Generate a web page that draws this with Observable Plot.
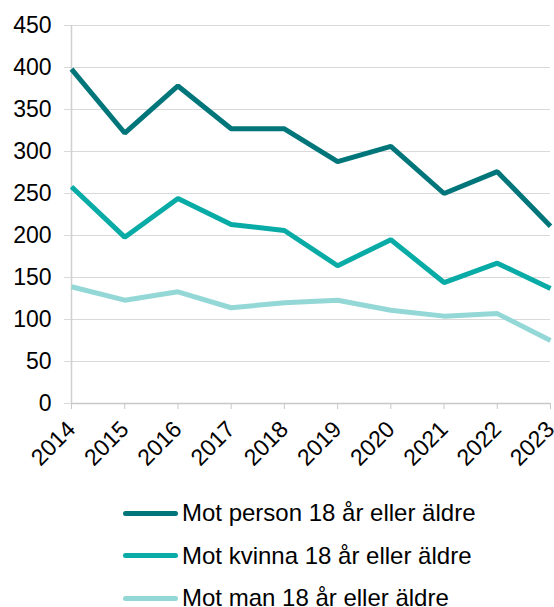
<!DOCTYPE html>
<html>
<head>
<meta charset="utf-8">
<script src="https://cdn.jsdelivr.net/npm/d3@7"></script>
<script src="https://cdn.jsdelivr.net/npm/@observablehq/plot@0.6"></script>
<style>
  body { margin: 0; background: #fff; font-family: "Liberation Sans", Arial, sans-serif; }
  #legend { padding-top: 12px; padding-left: 123px; }
  .row { display: flex; align-items: center; height: 42.5px; font-size: 24px; color: #000; }
  .sw { width: 55px; height: 5px; border-radius: 3px; margin-right: 4px; }
</style>
</head>
<body>
<div id="chart"></div>
<div id="legend"></div>
<script>
const years = [2014, 2015, 2016, 2017, 2018, 2019, 2020, 2021, 2022, 2023];
const seriesNames = ["Mot person 18 år eller äldre", "Mot kvinna 18 år eller äldre", "Mot man 18 år eller äldre"];
const person = [398, 322, 378, 327, 327, 288, 306, 250, 276, 211];
const kvinna = [258, 198, 244, 213, 206, 164, 195, 144, 167, 137];
const man = [139, 123, 133, 114, 120, 123, 111, 104, 107, 75];
const colors = ["#00767a", "#08aba5", "#93d8d6"];
const yTicks = [0, 50, 100, 150, 200, 250, 300, 350, 400, 450];

const seriesValues = [person, kvinna, man];
const data = [];
seriesNames.forEach((s, i) => years.forEach((y, j) => data.push({series: s, year: y, value: seriesValues[i][j]})));

const chart = Plot.plot({
  width: 554,
  height: 480,
  marginTop: 25,
  marginBottom: 77,
  marginLeft: 71,
  marginRight: 4,
  style: {fontFamily: '"Liberation Sans", Arial, sans-serif', fontSize: "23px", color: "#000", background: "#fff", overflow: "visible"},
  x: {domain: [2014, 2023], ticks: years, tickFormat: d => String(d), tickRotate: -45, label: null},
  y: {domain: [0, 450], ticks: yTicks, label: null},
  color: {domain: seriesNames, range: colors},
  marks: [
    Plot.gridY(yTicks, {stroke: "#d9d9d9", strokeOpacity: 1, strokeWidth: 1}),
    Plot.axisY(yTicks, {tickSize: 7, stroke: "#d9d9d9", strokeOpacity: 1, tickPadding: 13, fontSize: 23, label: null}),
    Plot.ruleX([2014], {stroke: "#d0d0d0", strokeWidth: 1.5}),
    Plot.ruleY([0], {stroke: "#c8c8c8", strokeWidth: 1.5}),
    Plot.axisX(years, {tickSize: 6, stroke: "#c8c8c8", strokeOpacity: 1, tickPadding: 16, tickRotate: -45, fontSize: 23, tickFormat: d => String(d), label: null}),
    Plot.line(data, {x: "year", y: "value", z: "series", stroke: "series", strokeWidth: 5, strokeLinejoin: "miter", strokeLinecap: "butt"})
  ]
});
document.getElementById("chart").appendChild(chart);

const legend = document.getElementById("legend");
seriesNames.forEach((s, i) => {
  const row = document.createElement("div");
  row.className = "row";
  const sw = document.createElement("div");
  sw.className = "sw";
  sw.style.background = colors[i];
  const t = document.createElement("span");
  t.textContent = s;
  row.appendChild(sw);
  row.appendChild(t);
  legend.appendChild(row);
});
</script>
</body>
</html>
